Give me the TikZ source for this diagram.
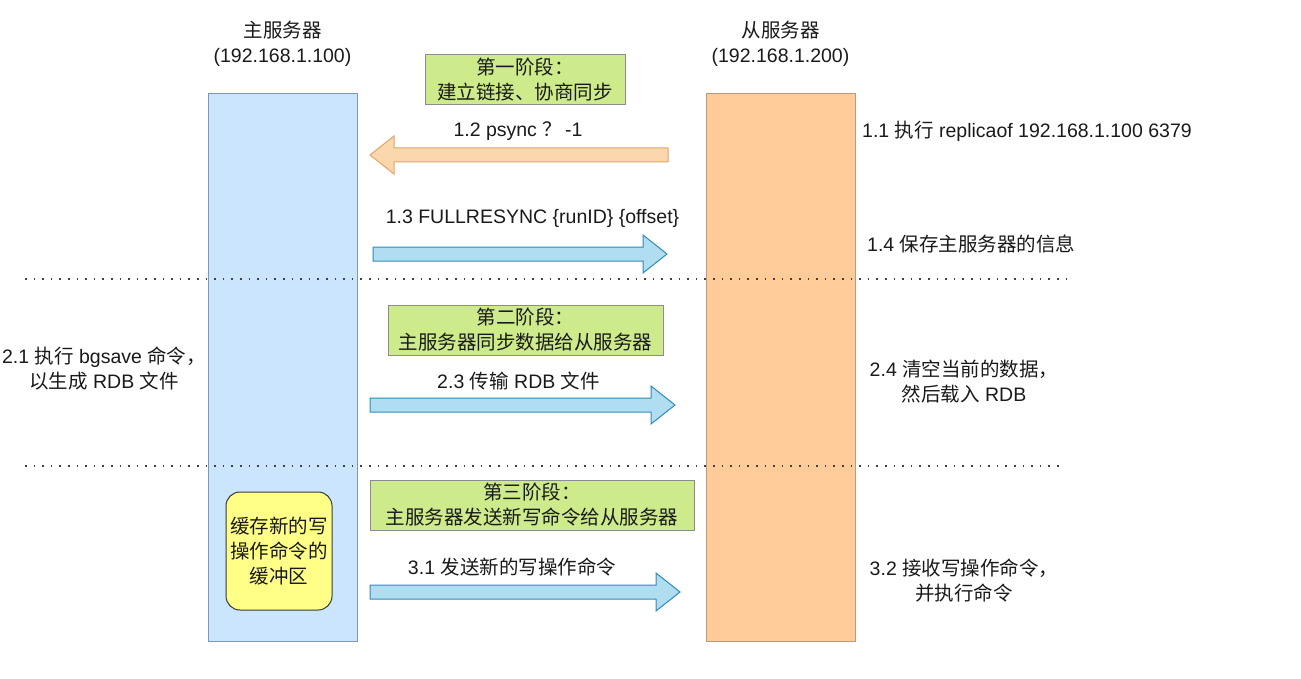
\documentclass[tikz,border=0pt]{standalone}
\usepackage{fontspec}
\setmainfont{Liberation Sans}
\newfontfamily\cjkf{Noto Sans CJK SC}
\newcommand\zh[1]{{\cjkf #1}}
\definecolor{mfill}{HTML}{CCE5FF}
\definecolor{mline}{HTML}{7F97B8}
\definecolor{sfill}{HTML}{FFCC99}
\definecolor{sline}{HTML}{B89A7C}
\definecolor{gfill}{HTML}{CDEB8B}
\definecolor{gline}{HTML}{8C8C8C}
\definecolor{yfill}{HTML}{FFFF88}
\definecolor{yline}{HTML}{36393D}
\definecolor{bafill}{HTML}{B1DDF0}
\definecolor{baline}{HTML}{2E8CB8}
\definecolor{oafill}{HTML}{FAD7AC}
\definecolor{oaline}{HTML}{E3A565}
\definecolor{txt}{HTML}{1A1A1A}
\tikzset{
  txtstyle/.style={font=\fontsize{19.5}{25}\selectfont, text=txt, align=center, inner sep=0pt},
  server/.style={draw, line width=1pt, minimum width=149pt, minimum height=547pt, inner sep=0pt},
  phase/.style={draw=gline, fill=gfill, line width=1pt, txtstyle, minimum height=50pt, inner sep=0pt},
  bufbox/.style={draw=yline, fill=yfill, line width=1pt, rounded corners=14pt, minimum width=106pt, minimum height=118pt, txtstyle},
  bluearrow/.style={draw=baline, fill=bafill, line width=1pt, line join=miter},
  orangearrow/.style={draw=oaline, fill=oafill, line width=1pt, line join=miter},
  sep/.style={draw=black!75, line width=1.8pt, dash pattern=on 1.6pt off 7pt},
}
% block arrows: x1 x2 y style
\newcommand\rarrowblk[4]{%
  \path[#4] (#1,#3-7) -- (#2-24,#3-7) -- (#2-24,#3-19) -- (#2,#3) -- (#2-24,#3+19) -- (#2-24,#3+7) -- (#1,#3+7) -- cycle;}
\newcommand\larrowblk[4]{%
  \path[#4] (#2,#3-7) -- (#1+24,#3-7) -- (#1+24,#3-19) -- (#1,#3) -- (#1+24,#3+19) -- (#1+24,#3+7) -- (#2,#3+7) -- cycle;}
\begin{document}
\begin{tikzpicture}[x=1pt,y=-1pt]
\useasboundingbox (0,0) rectangle (1301,679);
\fill[white] (0,0) rectangle (1301,679);

% servers
\node[server, draw=mline, fill=mfill] (master) at (282.5,367.5) {};
\node[server, draw=sline, fill=sfill] (slave) at (780.5,367.5) {};
\node[txtstyle] (mtitle) at (282.5,44) {\zh{主服务器}\\(192.168.1.100)};
\node[txtstyle] (stitle) at (780.5,44) {\zh{从服务器}\\(192.168.1.200)};

% separators
\coordinate (s1a) at (25,279); \coordinate (s1b) at (1068,279);
\coordinate (s2a) at (25,466); \coordinate (s2b) at (1060,466);
\draw[sep] (s1a) -- (s1b);
\draw[sep] (s2a) -- (s2b);

% phase boxes
\node[phase, minimum width=200pt] (p1) at (525,80) {\zh{第一阶段：}\\\zh{建立链接、协商同步}};
\node[phase, minimum width=275pt] (p2) at (525.5,330) {\zh{第二阶段：}\\\zh{主服务器同步数据给从服务器}};
\node[phase, minimum width=324pt] (p3) at (532,505) {\zh{第三阶段：}\\\zh{主服务器发送新写命令给从服务器}};

% buffer
\node[bufbox] (buf) at (279,551) {\zh{缓存新的写}\\\zh{操作命令的}\\\zh{缓冲区}};

% arrows
\larrowblk{370}{668}{155}{orangearrow}
\rarrowblk{373}{667}{254}{bluearrow}
\rarrowblk{370}{675}{405}{bluearrow}
\rarrowblk{370}{680}{592}{bluearrow}

% arrow labels
\node[txtstyle] (l12) at (518,131) {1.2 psync \zh{？}\,-1};
\node[txtstyle] (l13) at (532.5,218) {1.3 FULLRESYNC \{runID\} \{offset\}};
\node[txtstyle] (l23) at (518.5,381) {2.3 \zh{传输} RDB \zh{文件}};
\node[txtstyle] (l31) at (512,567) {3.1 \zh{发送新的写操作命令}};

% side texts
\node[txtstyle] (l21) at (104,369) {2.1 \zh{执行} bgsave \zh{命令，}\\\zh{以生成} RDB \zh{文件}};
\node[txtstyle, anchor=west] (l11) at (862,131) {1.1 \zh{执行} replicaof 192.168.1.100 6379};
\node[txtstyle, anchor=west] (l14) at (867,244) {1.4 \zh{保存主服务器的信息}};
\node[txtstyle] (l24) at (964,382) {2.4 \zh{清空当前的数据，}\\\zh{然后载入} RDB};
\node[txtstyle] (l32) at (964,581) {3.2 \zh{接收写操作命令，}\\\zh{并执行命令}};
\end{tikzpicture}
\end{document}
